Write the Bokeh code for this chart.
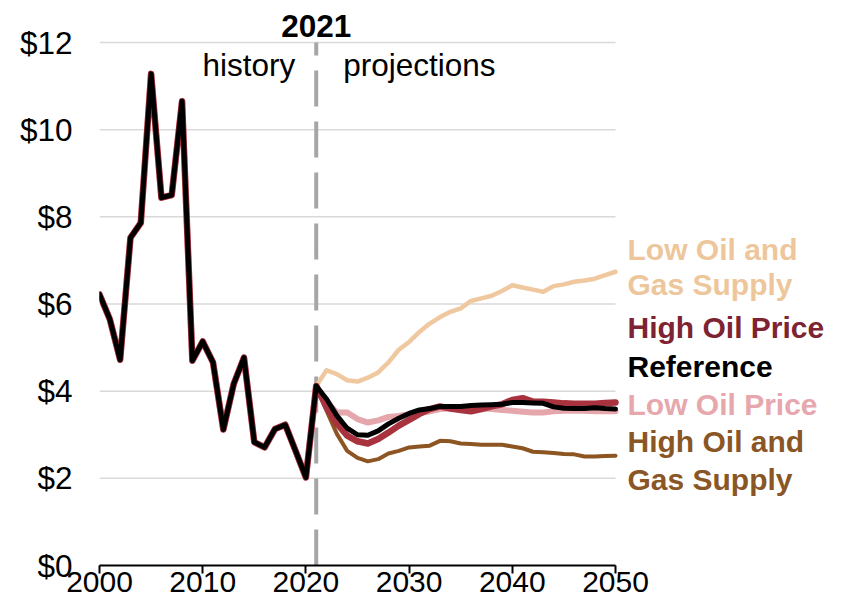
from bokeh.plotting import figure
from bokeh.models import Range1d, Label, FixedTicker, PrintfTickFormatter
from bokeh.embed import file_html
from bokeh.resources import INLINE

# ---- data ----
hist_years = list(range(2000, 2022))
history = [6.22, 5.65, 4.72, 7.52, 7.86, 11.28, 8.44, 8.50, 10.65, 4.70, 5.14,
           4.66, 3.12, 4.16, 4.77, 2.83, 2.71, 3.13, 3.23, 2.63, 2.02, 4.12]

proj_years = list(range(2022, 2051))
low_oil_gas_supply = [4.48, 4.39, 4.25, 4.22, 4.31, 4.43, 4.66, 4.95, 5.13, 5.36,
                      5.55, 5.70, 5.82, 5.90, 6.07, 6.13, 6.19, 6.30, 6.43, 6.38,
                      6.33, 6.28, 6.41, 6.45, 6.51, 6.54, 6.58, 6.66, 6.74]
high_oil_gas_supply = [3.55, 3.02, 2.63, 2.47, 2.39, 2.44, 2.57, 2.63, 2.71, 2.73,
                       2.75, 2.86, 2.85, 2.80, 2.79, 2.77, 2.77, 2.77, 2.73, 2.69,
                       2.61, 2.60, 2.58, 2.56, 2.55, 2.50, 2.50, 2.51, 2.52]
low_oil_price = [3.75, 3.51, 3.51, 3.36, 3.28, 3.33, 3.41, 3.43, 3.47, 3.49,
                 3.54, 3.59, 3.61, 3.63, 3.63, 3.61, 3.59, 3.57, 3.55, 3.53,
                 3.51, 3.51, 3.54, 3.55, 3.55, 3.55, 3.54, 3.54, 3.54]
high_oil_price = [3.63, 3.26, 2.98, 2.85, 2.80, 2.90, 3.05, 3.21, 3.34, 3.48,
                  3.59, 3.65, 3.60, 3.57, 3.54, 3.59, 3.65, 3.70, 3.80, 3.84,
                  3.76, 3.76, 3.74, 3.72, 3.71, 3.71, 3.71, 3.73, 3.74]
reference = [3.82, 3.44, 3.15, 3.00, 2.99, 3.09, 3.25, 3.38, 3.49, 3.57,
             3.60, 3.65, 3.65, 3.65, 3.67, 3.68, 3.69, 3.70, 3.74, 3.74,
             3.73, 3.72, 3.64, 3.61, 3.60, 3.60, 3.62, 3.60, 3.59]

x_ticks = [2000, 2010, 2020, 2030, 2040, 2050]
y_ticks = [0, 2, 4, 6, 8, 10, 12]
divider_year = 2021

# name, values, line colour, label colour, width, label lines
series = [
    ("Low Oil and Gas Supply", low_oil_gas_supply, "#EFC8A0", "#EEC69C", 4.5,
     ["Low Oil and", "Gas Supply"]),
    ("High Oil and Gas Supply", high_oil_gas_supply, "#8C5522", "#8B5626", 4.0,
     ["High Oil and", "Gas Supply"]),
    ("Low Oil Price", low_oil_price, "#E5A6AC", "#E6A7AD", 6.0, ["Low Oil Price"]),
    ("High Oil Price", high_oil_price, "#A8333F", "#7E2331", 6.5, ["High Oil Price"]),
    ("Reference", reference, "#000000", "#000000", 5.0, ["Reference"]),
]

FONT = "Liberation Sans"
FS = "31.5px"
FS_LEG = "30px"
FS_X = "30px"

# layout: frame runs to the right and top edges so labels there are not clipped
W, H = 828, 599
LEFT, BOTTOM = 99, 34
PX_PER_YEAR = 516 / 50.0
PX_PER_UNIT = 523 / 12.0
x_end = x_ticks[0] + (W - LEFT) / PX_PER_YEAR
y_end = (H - BOTTOM) / PX_PER_UNIT

p = figure(width=W, height=H, output_backend="svg", toolbar_location=None,
           x_range=Range1d(x_ticks[0], x_end), y_range=Range1d(y_ticks[0], y_end),
           min_border_left=LEFT, min_border_right=0, min_border_top=0,
           min_border_bottom=BOTTOM)
p.outline_line_color = None
p.background_fill_color = "white"
p.border_fill_color = "white"

# axes
p.xaxis.ticker = FixedTicker(ticks=x_ticks)
p.xaxis.bounds = (x_ticks[0], x_ticks[-1])
p.xaxis.minor_tick_line_color = None
p.xaxis.axis_line_color = "black"
p.xaxis.axis_line_width = 2
p.xaxis.major_tick_line_color = "black"
p.xaxis.major_tick_line_width = 2
p.xaxis.major_tick_in = 0
p.xaxis.major_tick_out = 8
p.xaxis.major_label_standoff = -2
p.xaxis.major_label_text_font = FONT
p.xaxis.major_label_text_font_size = FS_X
p.xaxis.major_label_text_color = "black"

p.yaxis.ticker = FixedTicker(ticks=y_ticks)
p.yaxis.bounds = (y_ticks[0], y_ticks[-1])
p.yaxis.formatter = PrintfTickFormatter(format="$%d")
p.yaxis.axis_line_color = None
p.yaxis.major_tick_line_color = None
p.yaxis.minor_tick_line_color = None
p.yaxis.major_label_standoff = 21
p.yaxis.major_label_text_font = FONT
p.yaxis.major_label_text_font_size = FS
p.yaxis.major_label_text_color = "black"

p.xgrid.grid_line_color = None
p.ygrid.grid_line_color = None

# horizontal gridlines limited to the data span
grid_vals = y_ticks[1:]
p.segment(x0=[x_ticks[0]] * len(grid_vals), y0=grid_vals,
          x1=[x_ticks[-1]] * len(grid_vals), y1=grid_vals,
          line_color="#D9D9D9", line_width=1.5)

# divider line (drawn from bottom up so dash phase matches)
p.line(x=[divider_year, divider_year], y=[y_ticks[0], y_ticks[-1]],
       line_color="#A6A6A6", line_width=4, line_dash="36 15")

# series (each includes history)
for name, vals, col, lcol, w, lines in series:
    xs = hist_years + proj_years
    ys = history + vals
    p.line(x=xs, y=ys, line_color=col, line_width=w, line_join="round",
           line_cap="round")

# series labels at right (vertical centres)
label_centres = {
    "Low Oil and Gas Supply": [7.25, 6.45],
    "High Oil Price": [5.45],
    "Reference": [4.57],
    "Low Oil Price": [3.69],
    "High Oil and Gas Supply": [2.85, 1.97],
}
for name, vals, col, lcol, w, lines in series:
    for txt, yc in zip(lines, label_centres[name]):
        p.add_layout(Label(x=x_ticks[-1], y=yc, x_offset=12, text=txt,
                           text_font=FONT, text_font_size=FS_LEG,
                           text_font_style="bold", text_color=lcol,
                           text_align="left", text_baseline="middle"))

# annotations
p.add_layout(Label(x=divider_year, y=12.39, text=str(divider_year),
                   text_font=FONT, text_font_size=FS, text_font_style="bold",
                   text_color="black", text_align="center",
                   text_baseline="middle"))
p.add_layout(Label(x=divider_year, y=11.48, x_offset=-21, text="history",
                   text_font=FONT, text_font_size=FS, text_color="black",
                   text_align="right", text_baseline="middle"))
p.add_layout(Label(x=divider_year, y=11.48, x_offset=27, text="projections",
                   text_font=FONT, text_font_size=FS, text_color="black",
                   text_align="left", text_baseline="middle"))

open("out.html", "w").write(file_html(p, INLINE))
